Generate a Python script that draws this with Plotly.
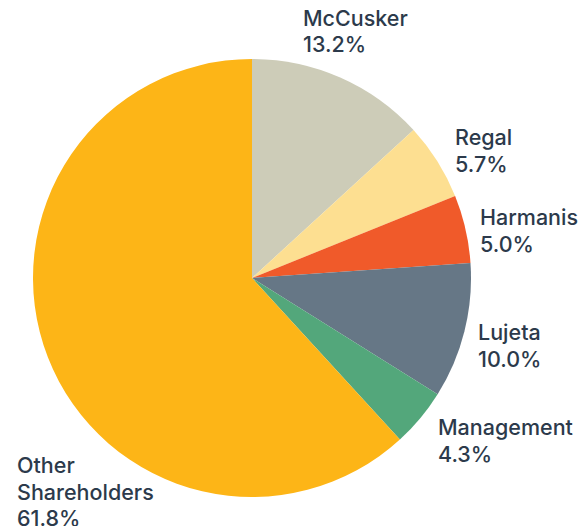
import plotly.graph_objects as go

labels = ["McCusker", "Regal", "Harmanis", "Lujeta", "Management", "Other Shareholders"]
values = [13.2, 5.7, 5.0, 10.0, 4.3, 61.8]
colors = ["#CDCCB8", "#FDDF91", "#F05A2A", "#667786", "#53A77B", "#FDB517"]

W, H = 580, 526
# label block placement: left x px, y px of first line's middle
label_pos = [(301, 17), (453, 136), (478, 216), (476, 331), (436, 426), (15, 464)]
LINE = 26.5

fig = go.Figure(go.Pie(
    labels=labels, values=values, sort=False, direction="clockwise", rotation=0,
    marker=dict(colors=colors, line=dict(width=0)),
    textinfo="none", hoverinfo="label+percent", showlegend=False,
    domain=dict(x=[33 / W, 471 / W], y=[1 - 497 / H, 1 - 59 / H]),
))

for lab, v, (px, py) in zip(labels, values, label_pos):
    lines = lab.split(" ") if lab.startswith("Other") else [lab]
    lines = lines + [f"{v:.1f}%"]
    for i, t in enumerate(lines):
        fig.add_annotation(
            x=px / W, y=1 - (py + 1 + i * LINE) / H, xref="paper", yref="paper",
            xanchor="left", yanchor="middle", align="left", showarrow=False,
            text=t,
            font=dict(family="Inter", size=21.5, color="#2C3A4B", weight=500),
        )

fig.update_layout(width=W, height=H, margin=dict(l=0, r=0, t=0, b=0),
                  paper_bgcolor="white", plot_bgcolor="white")
fig.write_html("out.html", config={"displayModeBar": False},
               post_script="document.body.style.margin='0';")
